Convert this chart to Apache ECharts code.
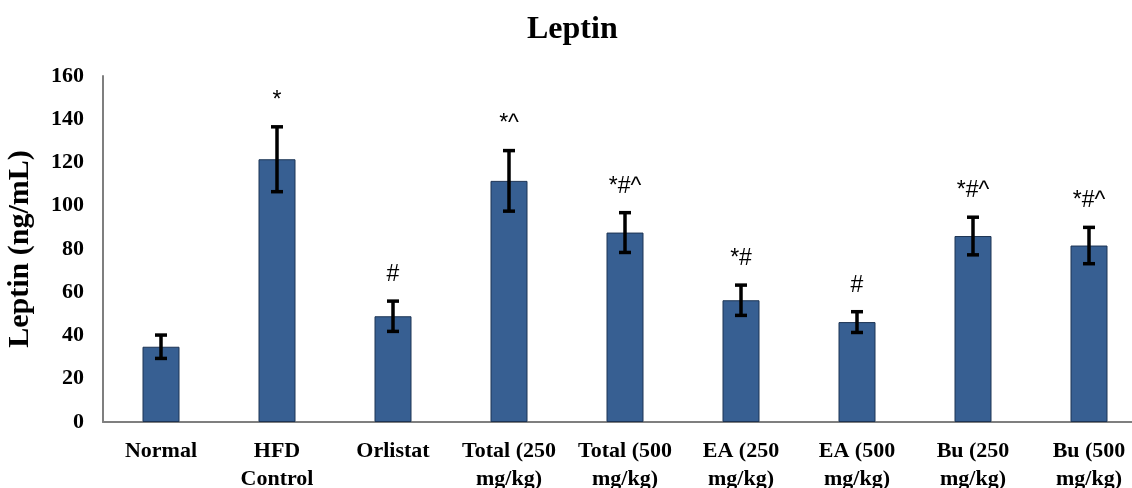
<!DOCTYPE html>
<html>
<head>
<meta charset="utf-8">
<script src="https://cdn.jsdelivr.net/npm/echarts@6/dist/echarts.min.js"></script>
<style>
  html, body { margin: 0; padding: 0; background: #fff; }
  #chart { width: 1132px; height: 488px; }
</style>
</head>
<body>
<div id="chart"></div>
<script>
// Leptin levels per treatment group (mean ± SD)
const groups = ['Normal', 'HFD\nControl', 'Orlistat', 'Total (250\nmg/kg)', 'Total (500\nmg/kg)',
                'EA (250\nmg/kg)', 'EA (500\nmg/kg)', 'Bu (250\nmg/kg)', 'Bu (500\nmg/kg)'];
const leptinMean = [34.8, 121.5, 48.9, 111.5, 87.6, 56.3, 46.2, 86.0, 81.6];
const leptinSD   = [5.4, 15.0, 7.0, 14.0, 9.2, 7.0, 4.8, 8.7, 8.4];
const significance = ['', '*', '#', '*^', '*#^', '*#', '#', '*#^', '*#^'];
const yTicks = { min: 0, max: 160, interval: 20 };

const serif = '"Liberation Serif", "Times New Roman", serif';
const sans = '"Liberation Sans", Arial, sans-serif';

const chart = echarts.init(document.getElementById('chart'));

chart.setOption({
  animation: false,
  backgroundColor: '#ffffff',
  title: {
    text: 'Leptin',
    left: 522,
    top: 9,
    textStyle: { fontFamily: serif, fontWeight: 'bold', fontSize: 32, color: '#000' }
  },
  grid: { left: 103, top: 76, right: -15, bottom: 66, containLabel: false, outerBoundsMode: 'none' },
  xAxis: {
    type: 'category',
    data: groups,
    axisLine: { lineStyle: { color: '#7f7f7f', width: 2 } },
    axisTick: { show: false },
    axisLabel: {
      interval: 0,
      margin: 15,
      fontFamily: serif, fontWeight: 'bold', fontSize: 22, lineHeight: 28, color: '#000'
    }
  },
  yAxis: {
    type: 'value',
    min: yTicks.min, max: yTicks.max, interval: yTicks.interval,
    name: 'Leptin (ng/mL)',
    nameLocation: 'middle',
    nameGap: 68,
    nameTextStyle: { fontFamily: serif, fontWeight: 'bold', fontSize: 30, color: '#000' },
    axisLine: { show: true, lineStyle: { color: '#7f7f7f', width: 2 } },
    axisTick: { show: false },
    splitLine: { show: false },
    axisLabel: { margin: 19, fontFamily: serif, fontWeight: 'bold', fontSize: 22, color: '#000' }
  },
  series: [
    {
      type: 'bar',
      data: leptinMean,
      barWidth: 37,
      itemStyle: { color: '#375f92', borderColor: '#1d3454', borderWidth: 1 }
    },
    {
      // error bars with significance markers above them
      type: 'custom',
      data: leptinMean.map((m, i) => [i, m, leptinSD[i]]),
      z: 10,
      renderItem: function (params, api) {
        const i = api.value(0);
        const m = api.value(1);
        const sd = api.value(2);
        const top = api.coord([i, m + sd]);
        const bot = api.coord([i, m - sd]);
        const cap = 6;
        const style = { stroke: '#000', lineWidth: 3.5 };
        const children = [
          { type: 'line', shape: { x1: top[0], y1: top[1], x2: bot[0], y2: bot[1] }, style },
          { type: 'line', shape: { x1: top[0] - cap, y1: top[1], x2: top[0] + cap, y2: top[1] }, style },
          { type: 'line', shape: { x1: bot[0] - cap, y1: bot[1], x2: bot[0] + cap, y2: bot[1] }, style }
        ];
        const mark = significance[params.dataIndex];
        if (mark) {
          children.push({
            type: 'text',
            style: {
              text: mark,
              x: top[0], y: top[1] - 15,
              align: 'center', verticalAlign: 'bottom',
              font: '23px ' + sans,
              fill: '#000'
            }
          });
        }
        return { type: 'group', children };
      }
    }
  ]
});
</script>
</body>
</html>
